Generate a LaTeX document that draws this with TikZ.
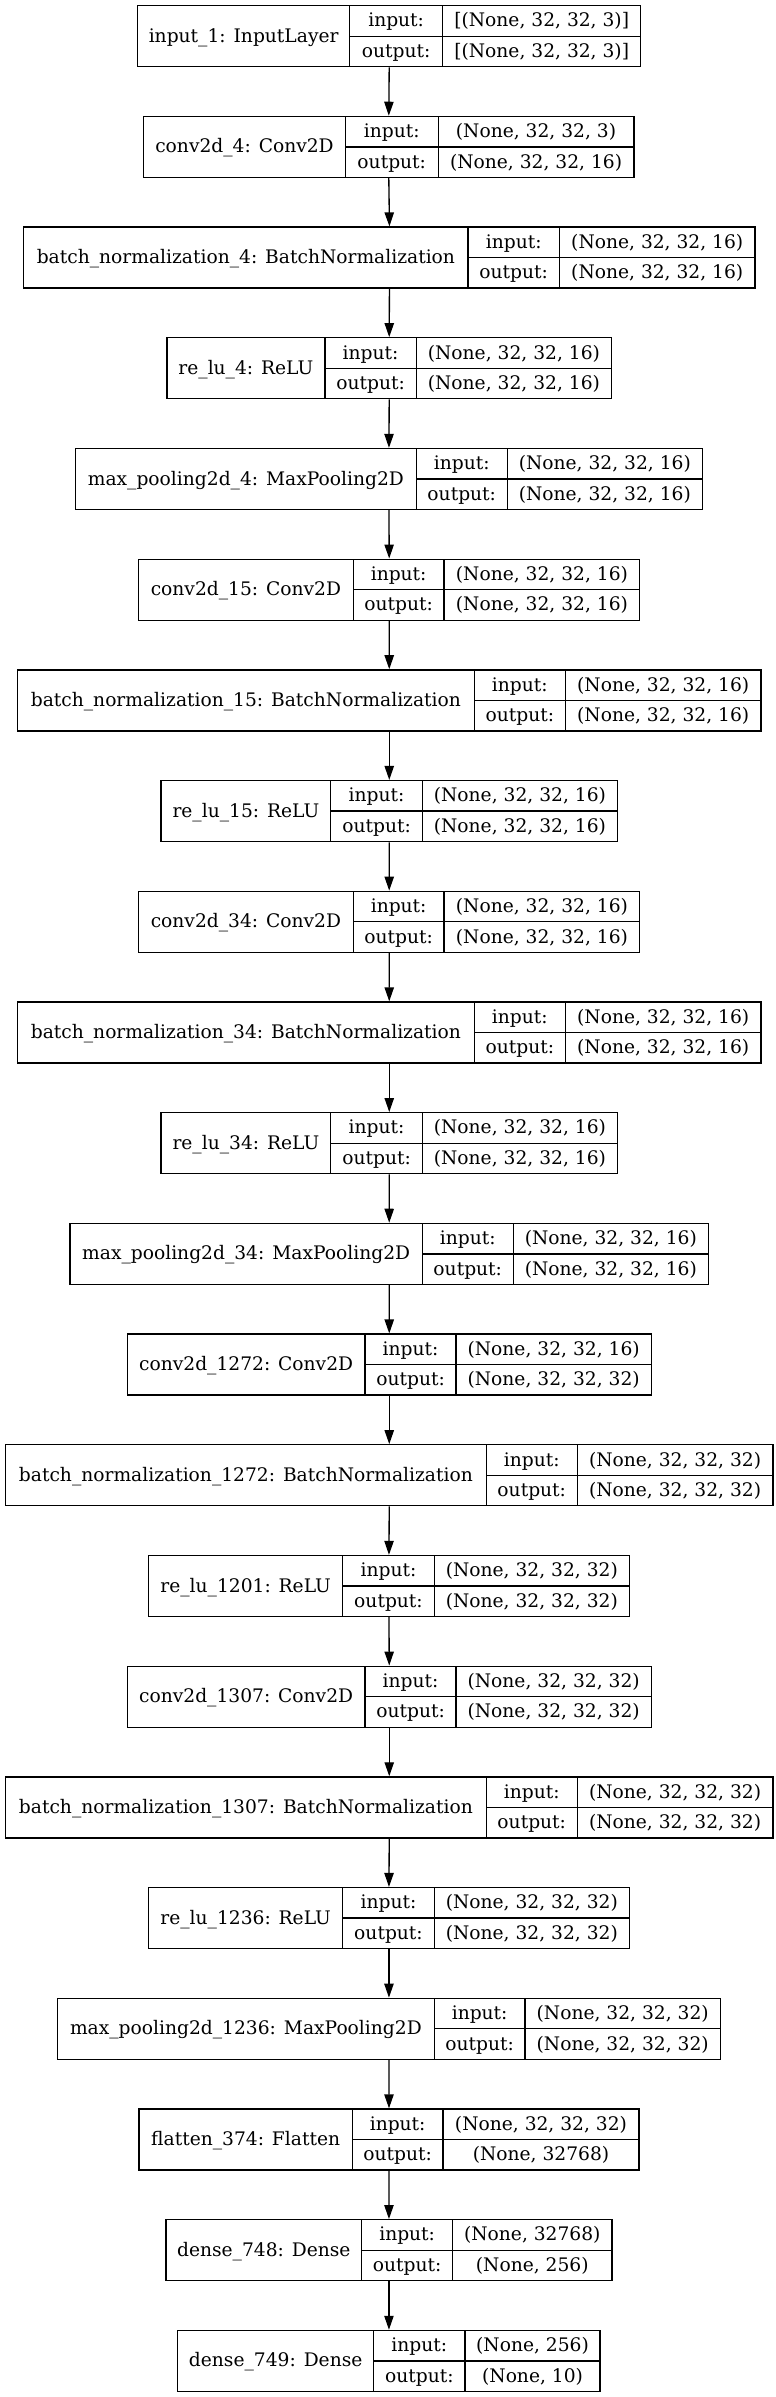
\documentclass[tikz,border=0pt]{standalone}
\usepackage{fontspec}
\setmainfont{DejaVu Serif}
\usetikzlibrary{arrows.meta}
\tikzset{
  box/.style={draw=black, line width=1pt, inner sep=0pt, minimum height=45.75pt},
  cell/.style={line width=1pt, draw=black},
  txt/.style={anchor=base, inner sep=0pt, font=\fontsize{14pt}{16pt}\selectfont},
  arr/.style={line width=1pt, -{Triangle[length=10.5pt,width=7pt]}},
}
\newcommand\kerasrow[8]{%
  \pgfmathsetmacro\tp{5.7+110.7*(#1-1)}%
  \pgfmathsetmacro\cx{(#2+#5)/2}%
  \pgfmathsetmacro\wdpt{0.75*(#5-#2)}%
  \node[box, minimum width=\wdpt pt] (b#1) at (\cx,\tp+30.5) {};
  \draw[cell] (#3,\tp) -- (#3,\tp+61);
  \draw[cell] (#4,\tp) -- (#4,\tp+61);
  \draw[cell] (#3,\tp+30.5) -- (#5,\tp+30.5);
  \node[txt] (n#1) at ({(#2+#3)/2},\tp+36.5) {#6};
  \node[txt] (ia#1) at ({(#3+#4)/2},\tp+21.25) {input:};
  \node[txt] (ib#1) at ({(#4+#5)/2},\tp+21.25) {#7};
  \node[txt] (oa#1) at ({(#3+#4)/2},\tp+51.75) {output:};
  \node[txt] (ob#1) at ({(#4+#5)/2},\tp+51.75) {#8};
}
\begin{document}
\begin{tikzpicture}[x=0.75pt,y=-0.75pt]
\fill[white] (0,0) rectangle (775,2397);
\useasboundingbox (0,0) rectangle (775,2397);
\kerasrow{1}{137.6}{349.7}{442.6}{640.8}{input\_1: InputLayer}{[(None, 32, 32, 3)]}{[(None, 32, 32, 3)]}
\kerasrow{2}{143.7}{345.3}{438.2}{633.9}{conv2d\_4: Conv2D}{(None, 32, 32, 3)}{(None, 32, 32, 16)}
\kerasrow{3}{23.8}{468}{559.4}{755.1}{batch\_normalization\_4: BatchNormalization}{(None, 32, 32, 16)}{(None, 32, 32, 16)}
\kerasrow{4}{166.9}{324.9}{416.3}{611.5}{re\_lu\_4: ReLU}{(None, 32, 32, 16)}{(None, 32, 32, 16)}
\kerasrow{5}{75.5}{416.3}{507.2}{702.4}{max\_pooling2d\_4: MaxPooling2D}{(None, 32, 32, 16)}{(None, 32, 32, 16)}
\kerasrow{6}{138.6}{353.2}{444.1}{639.8}{conv2d\_15: Conv2D}{(None, 32, 32, 16)}{(None, 32, 32, 16)}
\kerasrow{7}{17.4}{474.4}{565.3}{761.1}{batch\_normalization\_15: BatchNormalization}{(None, 32, 32, 16)}{(None, 32, 32, 16)}
\kerasrow{8}{161}{330.8}{422.3}{617.5}{re\_lu\_15: ReLU}{(None, 32, 32, 16)}{(None, 32, 32, 16)}
\kerasrow{9}{138.6}{353.2}{444.1}{639.8}{conv2d\_34: Conv2D}{(None, 32, 32, 16)}{(None, 32, 32, 16)}
\kerasrow{10}{17.4}{474.4}{565.3}{761.1}{batch\_normalization\_34: BatchNormalization}{(None, 32, 32, 16)}{(None, 32, 32, 16)}
\kerasrow{11}{161}{330.8}{422.3}{617.5}{re\_lu\_34: ReLU}{(None, 32, 32, 16)}{(None, 32, 32, 16)}
\kerasrow{12}{70}{422.3}{513.2}{708.4}{max\_pooling2d\_34: MaxPooling2D}{(None, 32, 32, 16)}{(None, 32, 32, 16)}
\kerasrow{13}{127.2}{365.1}{456}{651.3}{conv2d\_1272: Conv2D}{(None, 32, 32, 16)}{(None, 32, 32, 32)}
\kerasrow{14}{5.5}{486.3}{577.2}{773}{batch\_normalization\_1272: BatchNormalization}{(None, 32, 32, 32)}{(None, 32, 32, 32)}
\kerasrow{15}{148.5}{342.8}{434.2}{629.4}{re\_lu\_1201: ReLU}{(None, 32, 32, 32)}{(None, 32, 32, 32)}
\kerasrow{16}{127.2}{365.1}{456}{651.3}{conv2d\_1307: Conv2D}{(None, 32, 32, 32)}{(None, 32, 32, 32)}
\kerasrow{17}{5.5}{486.3}{577.2}{773}{batch\_normalization\_1307: BatchNormalization}{(None, 32, 32, 32)}{(None, 32, 32, 32)}
\kerasrow{18}{148.5}{342.8}{434.2}{629.4}{re\_lu\_1236: ReLU}{(None, 32, 32, 32)}{(None, 32, 32, 32)}
\kerasrow{19}{57.6}{434.2}{525.1}{720.3}{max\_pooling2d\_1236: MaxPooling2D}{(None, 32, 32, 32)}{(None, 32, 32, 32)}
\kerasrow{20}{139.1}{352.2}{443.1}{638.9}{flatten\_374: Flatten}{(None, 32, 32, 32)}{(None, 32768)}
\kerasrow{21}{165.9}{361.7}{452.6}{612}{dense\_748: Dense}{(None, 32768)}{(None, 256)}
\kerasrow{22}{177.8}{373.6}{465}{600.1}{dense\_749: Dense}{(None, 256)}{(None, 10)}
\foreach \i [evaluate=\i as \j using int(\i+1)] in {1,...,21}
  \draw[arr] (b\i.south) -- (b\j.north);
\end{tikzpicture}
\end{document}
